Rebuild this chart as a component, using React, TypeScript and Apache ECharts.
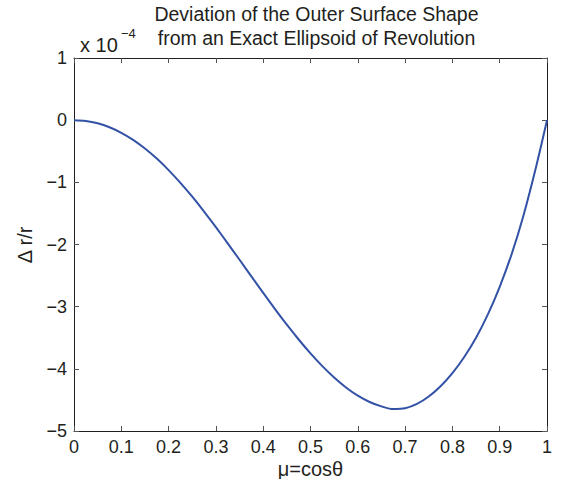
import React, { useEffect, useRef } from "react";
import * as echarts from "echarts";

const muValues = [0, 0.025, 0.05, 0.075, 0.1, 0.125, 0.15, 0.175, 0.2, 0.225, 0.25, 0.275, 0.3, 0.325, 0.35, 0.375, 0.4, 0.425, 0.45, 0.475, 0.5, 0.525, 0.55, 0.575, 0.6, 0.625, 0.65, 0.675, 0.7, 0.725, 0.75, 0.775, 0.8, 0.825, 0.85, 0.875, 0.9, 0.925, 0.95, 0.975, 1];
const deltaValues = [0, -0.013, -0.051, -0.114, -0.203, -0.317, -0.456, -0.618, -0.803, -1.008, -1.231, -1.47, -1.721, -1.981, -2.246, -2.513, -2.778, -3.039, -3.29, -3.528, -3.752, -3.957, -4.14, -4.299, -4.431, -4.533, -4.604, -4.648, -4.635, -4.565, -4.445, -4.28, -4.07, -3.81, -3.5, -3.125, -2.68, -2.16, -1.54, -0.81, 0];
const titleLines = ["Deviation of the Outer Surface Shape", "from an Exact Ellipsoid of Revolution"];
const xName = "μ=cosθ";
const yName = "Δ r/r";
const exponentBase = "x 10";
const exponentPower = "−4";

const FONT = "'Liberation Sans', Arial, Helvetica, sans-serif";
const TXT = "#231f20";

export default function App() {
  const ref = useRef<HTMLDivElement>(null);
  useEffect(() => {
    if (!ref.current) return;
    const chart = echarts.init(ref.current, null, { renderer: "svg" });
    const data = muValues.map((m, i) => [m, deltaValues[i]]);
    const fmtY = (v: number) => (v < 0 ? "−" + Math.abs(v) : String(v));
    const fmtX = (v: number) => String(Math.round(v * 10) / 10);
    const tickStyle = { show: true, inside: true, length: 5, lineStyle: { color: "#555", width: 1 } };
    const axisLine = { show: true, onZero: false, lineStyle: { color: "#231f20", width: 1 } };
    chart.setOption({
      animation: false,
      backgroundColor: "#fff",
      grid: { left: 74, right: 20, top: 58, bottom: 48, show: false },
      xAxis: [
        {
          type: "value", min: 0, max: 1, interval: 0.1, position: "bottom",
          axisLine, axisTick: tickStyle, splitLine: { show: false },
          axisLabel: { formatter: fmtX, color: TXT, fontSize: 18, fontFamily: FONT, margin: 7 },
        },
        {
          type: "value", min: 0, max: 1, interval: 0.1, position: "top",
          axisLine, axisTick: tickStyle, splitLine: { show: false }, axisLabel: { show: false },
        },
      ],
      yAxis: [
        {
          type: "value", min: -5, max: 1, interval: 1, position: "left",
          axisLine, axisTick: tickStyle, splitLine: { show: false },
          axisLabel: { formatter: fmtY, color: TXT, fontSize: 18, fontFamily: FONT, margin: 7 },
        },
        {
          type: "value", min: -5, max: 1, interval: 1, position: "right",
          axisLine, axisTick: tickStyle, splitLine: { show: false }, axisLabel: { show: false },
        },
      ],
      series: [
        {
          type: "line", data, xAxisIndex: 0, yAxisIndex: 0, showSymbol: false,
          smooth: 0.3,
          lineStyle: { color: "#3352a6", width: 2 },
        },
      ],
      graphic: [
        { type: "text", x: 316.5, y: 13.5, style: { text: titleLines[0], font: `19.5px ${FONT}`, fill: TXT, align: "center", verticalAlign: "middle" } },
        { type: "text", x: 316.5, y: 37.5, style: { text: titleLines[1], font: `19.5px ${FONT}`, fill: TXT, align: "center", verticalAlign: "middle" } },
        { type: "text", x: 80, y: 44.5, style: { text: exponentBase, font: `20px ${FONT}`, fill: TXT, align: "left", verticalAlign: "middle" } },
        { type: "text", x: 121, y: 33.5, style: { text: exponentPower, font: `13px ${FONT}`, fill: TXT, align: "left", verticalAlign: "middle" } },
        { type: "text", x: 310.5, y: 469, style: { text: xName, font: `20px ${FONT}`, fill: TXT, align: "center", verticalAlign: "middle" } },
        { type: "text", x: 25, y: 245, rotation: Math.PI / 2, style: { text: yName, font: `20px ${FONT}`, fill: TXT, align: "center", verticalAlign: "middle" } },
      ],
    });
    return () => chart.dispose();
  }, []);
  return <div ref={ref} style={{ width: 567, height: 479, position: "absolute", left: 0, top: 0 }} />;
}
